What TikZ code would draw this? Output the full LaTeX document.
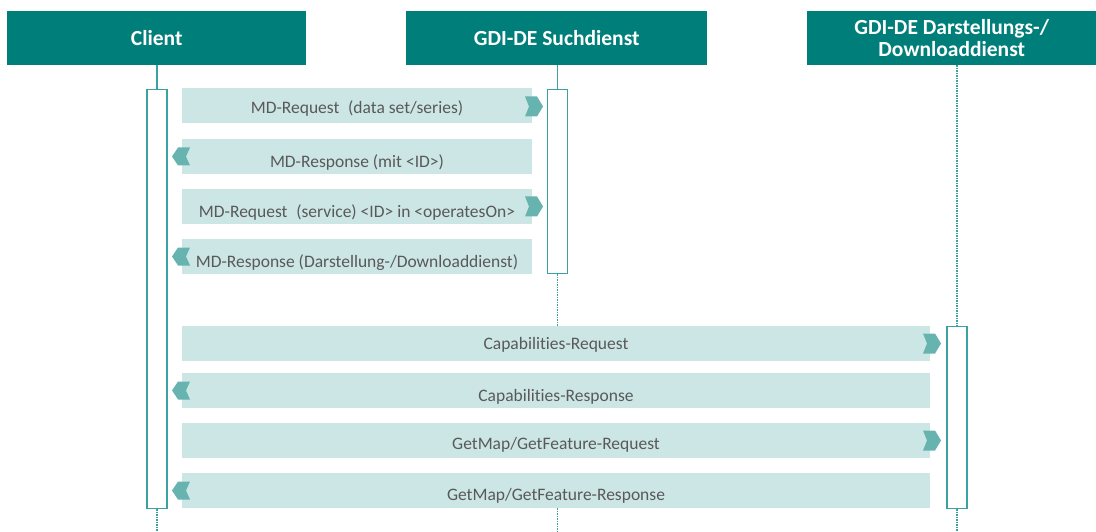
\documentclass[tikz,border=0pt]{standalone}
\usepackage{fontspec}
\setmainfont{Carlito}[Ligatures=NoCommon]
\definecolor{hdr}{HTML}{007F7A}
\definecolor{barc}{HTML}{CCE6E5}
\definecolor{chev}{HTML}{66B3B0}
\definecolor{life}{HTML}{3AA39F}
\definecolor{txt}{HTML}{595959}
\tikzset{
  header/.style={fill=hdr, text=white, font=\fontsize{21.5}{22.5}\selectfont\bfseries, inner sep=0pt, minimum height=54pt, align=center, anchor=north west},
  actbox/.style={draw=life, line width=1.3pt, fill=white, inner sep=0pt, minimum width=20pt, anchor=north},
  msgbar/.style={fill=barc, inner sep=0pt, minimum height=35pt, anchor=north west},
  msgtext/.style={text=txt, font=\fontsize{17.5}{20}\selectfont, inner sep=0pt},
  solidlife/.style={draw=life, line width=1.2pt},
  dotlife/.style={draw=life, line width=1.2pt, dash pattern=on 1.5pt off 1pt},
  chevR/.pic={\fill[chev] (-9,-10) -- (3,-10) -- (9,0) -- (3,10) -- (-9,10) -- (-5,0) -- cycle;},
  chevL/.pic={\fill[chev] (9,-9) -- (-3,-9) -- (-9,0) -- (-3,9) -- (9,9) -- (5,0) -- cycle;}
}
\begin{document}
\begin{tikzpicture}[x=1pt,y=-1pt]
\useasboundingbox (0,0) rectangle (1096,532);
% headers
\node[header, minimum width=299pt] (client) at (7,11) {Client};
\node[header, minimum width=301pt] (such) at (406,11) {GDI-DE Suchdienst};
\node[header, minimum width=289pt] (dar) at (807,11) {GDI-DE Darstellungs-/\\Downloaddienst};
% message bars
\node[msgbar, minimum width=350pt] (m1) at (182,88) {};
\node[msgbar, minimum width=350pt] (m2) at (182,139) {};
\node[msgbar, minimum width=350pt] (m3) at (182,189) {};
\node[msgbar, minimum width=350pt] (m4) at (182,239) {};
\node[msgbar, minimum width=748pt] (m5) at (182,326) {};
\node[msgbar, minimum width=748pt] (m6) at (182,373) {};
\node[msgbar, minimum width=748pt] (m7) at (182,423) {};
\node[msgbar, minimum width=748pt] (m8) at (182,473) {};
% activation boxes
\node[actbox, minimum height=419pt] (cbox) at (157,89) {};
\node[actbox, minimum height=184pt] (sbox) at (557.5,89) {};
\node[actbox, minimum height=182pt] (dbox) at (957,326) {};
% lifelines
\coordinate (cend) at (157,532);
\coordinate (send) at (557.5,532);
\coordinate (dend) at (957,532);
\draw[solidlife] (client.south -| cbox.north) -- (cbox.north);
\draw[solidlife] (such.south -| sbox.north) -- (sbox.north);
\draw[dotlife] (dar.south -| dbox.north) -- (dbox.north);
\draw[dotlife] (cbox.south) -- (cend);
\draw[dotlife] (sbox.south) -- (sbox.south |- m5.north);
\draw[dotlife] (sbox.south |- m8.south) -- (send);
\draw[dotlife] (dbox.south) -- (dend);
% chevrons
\pic at (534,106.5) {chevR};
\pic at (181,156.5) {chevL};
\pic at (534,206.5) {chevR};
\pic at (181,256.5) {chevL};
\pic at (932,343.5) {chevR};
\pic at (181,390.5) {chevL};
\pic at (932,440.5) {chevR};
\pic at (181,490.5) {chevL};
% texts
\node[msgtext] (t1) at (357,108.5) {MD-Request\hspace{0.5em}(data set/series)};
\node[msgtext] (t2) at (357,162.5) {MD-Response (mit <ID>)};
\node[msgtext] (t3) at (357,212.5) {MD-Request\hspace{0.5em}(service) <ID> in <operatesOn>};
\node[msgtext] (t4) at (357,262.5) {MD-Response (Darstellung-/Downloaddienst)};
\node[msgtext] (t5) at (556,344.5) {Capabilities-Request};
\node[msgtext] (t6) at (556,396.5) {Capabilities-Response};
\node[msgtext] (t7) at (556,444.5) {GetMap/GetFeature-Request};
\node[msgtext] (t8) at (556,495.5) {GetMap/GetFeature-Response};
\end{tikzpicture}
\end{document}
